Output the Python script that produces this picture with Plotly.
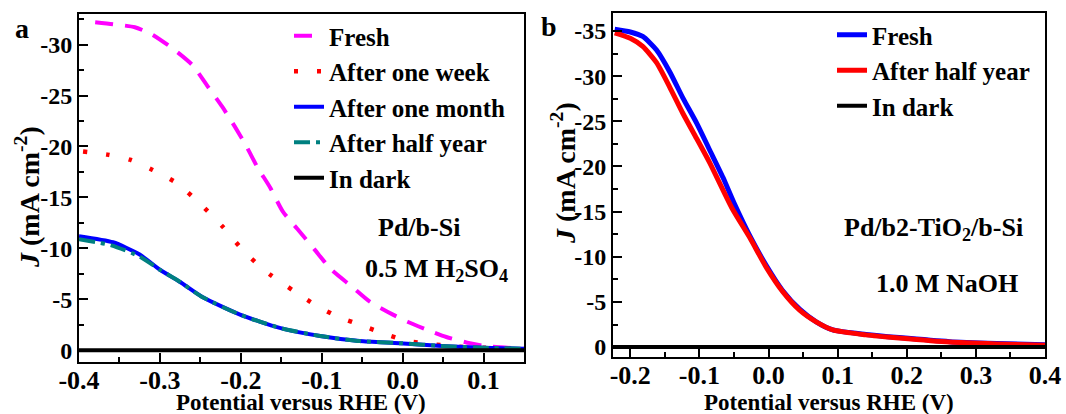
import plotly.graph_objects as go

# ---------------- data: panel a (Pd/b-Si, 0.5 M H2SO4) ----------------
a_fresh_x = [-0.38, -0.358, -0.331, -0.31, -0.284, -0.26, -0.241, -0.223, -0.207, -0.193,
             -0.179, -0.164, -0.148, -0.13, -0.109, -0.088, -0.062, -0.041, -0.012, 0.006,
             0.037, 0.054, 0.083, 0.104, 0.15]
a_fresh_j = [-32.2, -32.0, -31.7, -31.0, -29.6, -28.0, -25.9, -23.9, -21.9, -20.0,
             -17.9, -16.0, -13.6, -11.9, -9.9, -7.9, -6.2, -4.8, -3.5, -2.8,
             -1.8, -1.3, -0.7, -0.4, -0.15]

a_week_x = [-0.395, -0.365, -0.337, -0.309, -0.279, -0.25, -0.222, -0.195, -0.165, -0.136,
            -0.107, -0.08, -0.049, -0.022, 0.006, 0.036, 0.07, 0.1, 0.15]
a_week_j = [-19.5, -19.2, -18.7, -17.7, -16.4, -14.35, -12.1, -9.6, -7.5, -5.9,
            -4.4, -3.3, -2.4, -1.6, -0.9, -0.6, -0.35, -0.25, -0.1]

a_month_x = [-0.4, -0.358, -0.325, -0.3, -0.275, -0.247, -0.201, -0.152, -0.102, -0.053,
             -0.004, 0.054, 0.1, 0.15]
a_month_j = [-11.2, -10.6, -9.4, -7.9, -6.7, -5.2, -3.5, -2.2, -1.4, -0.9,
             -0.7, -0.4, -0.25, -0.15]

a_half_x = [-0.4, -0.36, -0.325, -0.3, -0.275, -0.247, -0.201, -0.152, -0.102, -0.053,
            -0.004, 0.054, 0.1, 0.15]
a_half_j = [-10.9, -10.3, -9.2, -7.9, -6.7, -5.2, -3.5, -2.2, -1.4, -0.9,
            -0.7, -0.4, -0.25, -0.15]

a_dark_x = [-0.4, 0.15]
a_dark_j = [0, 0]

a_xticks = [-0.4, -0.3, -0.2, -0.1, 0.0, 0.1]
a_xticktext = ["-0.4", "-0.3", "-0.2", "-0.1", "0.0", "0.1"]
a_yticks = [0, -5, -10, -15, -20, -25, -30]
a_yticktext = ["0", "-5", "-10", "-15", "-20", "-25", "-30"]

# ---------------- data: panel b (Pd/b2-TiO2/b-Si, 1.0 M NaOH) ----------------
b_fresh_x = [-0.2225, -0.2, -0.182, -0.162, -0.143, -0.124, -0.104, -0.085, -0.066, -0.049,
             -0.027, -0.003, 0.02, 0.045, 0.069, 0.093, 0.141, 0.189, 0.262, 0.33, 0.4]
b_fresh_j = [-35.2, -34.9, -34.4, -32.9, -30.5, -27.6, -24.8, -21.8, -18.8, -15.8,
             -12.3, -9.0, -6.3, -4.2, -2.8, -1.9, -1.4, -1.05, -0.6, -0.4, -0.25]

b_half_x = [-0.2225, -0.2, -0.182, -0.162, -0.143, -0.124, -0.104, -0.085, -0.053, -0.027,
            -0.003, 0.02, 0.045, 0.069, 0.093, 0.141, 0.189, 0.262, 0.33, 0.4]
b_half_j = [-34.8, -34.2, -33.3, -31.5, -28.8, -25.9, -23.1, -20.4, -15.4, -12.1,
            -8.8, -6.2, -4.1, -2.8, -1.9, -1.35, -1.0, -0.55, -0.35, -0.2]

b_dark_x = [-0.225, 0.4]
b_dark_j = [0, 0]

b_xticks = [-0.2, -0.1, 0.0, 0.1, 0.2, 0.3, 0.4]
b_xticktext = ["-0.2", "-0.1", "0.0", "0.1", "0.2", "0.3", "0.4"]
b_yticks = [0, -5, -10, -15, -20, -25, -30, -35]
b_yticktext = ["0", "-5", "-10", "-15", "-20", "-25", "-30", "-35"]

# ---------------- figure ----------------
FONT = "Liberation Serif"
W, H = 1066, 414

fig = go.Figure()

def add(x, y, name, color, width, dash, xa, ya, legend, group):
    fig.add_trace(go.Scatter(
        x=x, y=y, name=name, mode="lines",
        line=dict(color=color, width=width, dash=dash, shape="spline", smoothing=0.6),
        xaxis=xa, yaxis=ya, legend=legend, legendgroup=group))

# panel a
add(a_fresh_x, a_fresh_j, "Fresh", "#FF00FF", 4, "18px,12px", "x", "y", "legend", "a1")
add(a_week_x, a_week_j, "After one week", "#FF0000", 4.5, "4px,19px", "x", "y", "legend", "a2")
add(a_month_x, a_month_j, "After one month", "#0000FF", 4, "solid", "x", "y", "legend", "a3")
add(a_half_x, a_half_j, "After half year", "#008080", 4, "16px,6px,4px,6px", "x", "y", "legend", "a4")
add(a_dark_x, a_dark_j, "In dark", "#000000", 4, "solid", "x", "y", "legend", "a5")

# panel b
add(b_fresh_x, b_fresh_j, "Fresh", "#0000FF", 5, "solid", "x2", "y2", "legend2", "b1")
add(b_half_x, b_half_j, "After half year", "#FF0000", 5, "solid", "x2", "y2", "legend2", "b2")
add(b_dark_x, b_dark_j, "In dark", "#000000", 4, "solid", "x2", "y2", "legend2", "b3")

xtickfont = dict(family=FONT, size=26, color="black", weight=700)
ytickfont = dict(family=FONT, size=24, color="black", weight=700)

minor_x = dict(ticks="inside", ticklen=5, tickwidth=2, tickcolor="black",
               tickmode="linear", tick0=0, dtick=0.05)
minor_y = dict(ticks="inside", ticklen=5, tickwidth=2, tickcolor="black",
               tickmode="linear", tick0=0, dtick=2.5)

axis_common = dict(
    showline=True, linecolor="black", linewidth=2, mirror=True,
    ticks="inside", ticklen=9, tickwidth=2, tickcolor="black",
    showgrid=False, zeroline=False, automargin=False,
)

legend_font = dict(family=FONT, size=25, color="black", weight=700)

fig.update_layout(
    width=W, height=H,
    margin=dict(l=0, r=0, t=0, b=0),
    paper_bgcolor="white", plot_bgcolor="white",
    font=dict(family=FONT, color="black", weight=700),
    xaxis=dict(domain=[79 / W, 524 / W], range=[-0.4, 0.15], anchor="y",
               tickmode="array", tickvals=a_xticks, ticktext=a_xticktext,
               tickfont=xtickfont, ticklabelstandoff=-6,
               minor=minor_x, **axis_common),
    yaxis=dict(domain=[1 - 362 / H, 1 - 14 / H], range=[1.15, -33.0], anchor="x",
               tickmode="array", tickvals=a_yticks, ticktext=a_yticktext,
               tickfont=ytickfont, minor=minor_y, **axis_common),
    xaxis2=dict(domain=[613 / W, 1045 / W], range=[-0.225, 0.4], anchor="y2",
                tickmode="array", tickvals=b_xticks, ticktext=b_xticktext,
                tickfont=xtickfont, ticklabelstandoff=-6,
                minor=minor_x, **axis_common),
    yaxis2=dict(domain=[1 - 357 / H, 1 - 13 / H], range=[1.1, -37.0], anchor="x2",
                tickmode="array", tickvals=b_yticks, ticktext=b_yticktext,
                tickfont=ytickfont, minor=minor_y, **axis_common),
    legend=dict(x=289 / W, y=1 - 13 / H, xanchor="left", yanchor="top",
                bgcolor="rgba(0,0,0,0)", borderwidth=0, tracegroupgap=0,
                font=legend_font),
    legend2=dict(x=832 / W, y=1 - 12 / H, xanchor="left", yanchor="top",
                 bgcolor="rgba(0,0,0,0)", borderwidth=0, tracegroupgap=0,
                 font=legend_font),
    showlegend=True,
)

def ann(text, x, y, size, angle=0):
    fig.add_annotation(text=text, x=x / W, y=1 - y / H, xref="paper", yref="paper",
                       xanchor="center", yanchor="middle", showarrow=False,
                       textangle=angle,
                       font=dict(family=FONT, size=size, color="black", weight=700))

# axis titles
ann("Potential versus RHE (V)", 301, 402, 23)
ann("Potential versus RHE (V)", 829, 402, 23)
ann("<i>J</i> (mA cm<sup>-2</sup>)", 27, 197, 28, -90)
ann("<i>J</i> (mA cm<sup>-2</sup>)", 563, 173, 28, -90)

# in-plot labels
ann("Pd/b-Si", 419, 227, 26)
ann("0.5 M H<sub>2</sub>SO<sub>4</sub>", 436, 270, 26)
ann("Pd/b2-TiO<sub>2</sub>/b-Si", 933, 229, 26)
ann("1.0 M NaOH", 947, 283, 26)

# panel letters
ann("a", 22, 29, 28)
ann("b", 549, 26, 28)

fig.write_html("out.html")
